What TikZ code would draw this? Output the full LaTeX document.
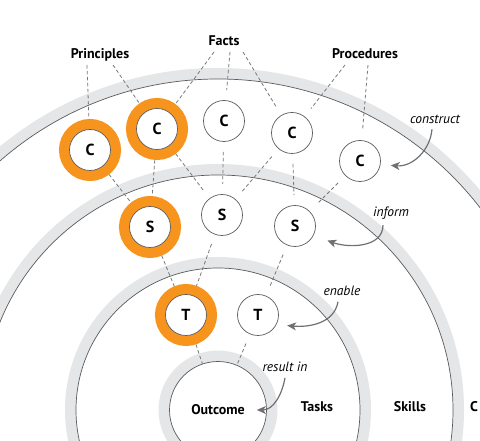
\documentclass[tikz,border=0pt]{standalone}
\usepackage{fontspec}
\setmainfont{PT Sans}
\usepackage{xcolor}
\usepackage{tikz}
\usetikzlibrary{arrows.meta,positioning}
\definecolor{bandgray}{RGB}{229,230,231}
\definecolor{rimgray}{RGB}{90,91,93}
\definecolor{dotgray}{RGB}{120,120,122}
\definecolor{arrowgray}{RGB}{112,112,114}
\definecolor{keyorange}{RGB}{247,148,29}
\tikzset{
  concept/.style={
    circle,
    draw=rimgray,
    line width=0.7pt,
    fill=white,
    minimum size=41pt,
    inner sep=0pt,
    outer sep=10.5pt,
    font=\fontsize{16}{16}\selectfont\bfseries
  },
  focus/.style={
    concept,
    preaction={draw=keyorange, line width=21pt}
  },
  goal/.style={
    circle,
    draw=rimgray,
    line width=0.7pt,
    minimum size=97pt,
    inner sep=0pt,
    font=\fontsize{14}{14}\selectfont\bfseries
  },
  heading/.style={
    font=\fontsize{14}{14}\selectfont\bfseries,
    text depth=0.25em,
    inner sep=2pt,
    outer sep=1.5pt
  },
  action/.style={
    font=\fontsize{13.5}{13.5}\selectfont\itshape,
    inner sep=2pt,
    outer sep=4pt
  },
  band/.style={draw=bandgray, line width=11pt},
  rim/.style={draw=rimgray, line width=0.7pt},
  dep/.style={draw=dotgray, line width=0.8pt, dash pattern=on 3.5pt off 2.5pt},
  rel/.style={-{Stealth[length=9pt, width=8pt, inset=2.5pt]}, draw=arrowgray, line width=1.2pt}
}

\begin{document}
\begin{tikzpicture}[x=1pt, y=1pt]
  \useasboundingbox (0,0) rectangle (480,441);
  \clip (0,0) rectangle (480,441);

  % rings
  \coordinate (hub) at (218,31);
  \foreach \r in {48.5,142,235,331}
    \draw[band] (hub) circle [radius=\r+5.5];
  \foreach \r in {142,235,331}
    \draw[rim] (hub) circle [radius=\r];
  \node[goal] (core) at (hub) {Outcome};

  % concepts, skills, tasks
  \node[focus] (c1) at (90,291) {C};
  \node[focus] (c2) at (157,312) {C};
  \node[concept] (c3) at (224,320) {C};
  \node[concept] (c4) at (292,308) {C};
  \node[concept] (c5) at (360,280) {C};
  \node[focus] (s1) at (150,214) {S};
  \node[concept] (s2) at (222,226) {S};
  \node[concept] (s3) at (295,215) {S};
  \node[focus] (t1) at (186,126) {T};
  \node[concept] (t2) at (258,126) {T};

  % labels
  \node[heading, anchor=base] (principles) at (100,382) {Principles};
  \node[heading, anchor=base] (facts) at (224,395) {Facts};
  \node[heading, anchor=base] (procedures) at (365,382) {Procedures};
  \node[heading, anchor=base] (tasks) at (317,29) {Tasks};
  \node[heading, anchor=base] (skills) at (410,29) {Skills};
  \node[heading, anchor=base east, inner sep=0.5pt] (concepts) at (480,29) {C};

  \node[action] (construct) at (435,322) {construct};
  \node[action] (inform) at (391,228) {inform};
  \node[action] (enable) at (342,150) {enable};
  \node[action] (resultin) at (285,74) {result in};

  % dashed links
  \draw[dep] ([xshift=-13pt]principles.south) -- (c1);
  \draw[dep] ([xshift=13pt]principles.south) -- (c2);
  \draw[dep] ([xshift=-10pt]facts.south) -- (c2);
  \draw[dep] ([xshift=6pt]facts.south) -- (c3);
  \draw[dep] ([xshift=19pt]facts.south) -- (c4);
  \draw[dep] ([xshift=-20pt]procedures.south) -- (c4);
  \draw[dep] ([xshift=3pt]procedures.south) -- (c5);
  \draw[dep] (c1) -- (s1);
  \draw[dep] (c2) -- (s1);
  \draw[dep] (c2) -- (s2);
  \draw[dep] (c3) -- (s2);
  \draw[dep] (c4) -- (s2);
  \draw[dep] (c4) -- (s3);
  \draw[dep] (c5) -- (s3);
  \draw[dep] (s1) -- (t1);
  \draw[dep] (s2) -- (t1);
  \draw[dep] (s3) -- (t2);
  \draw[dep] (t1) -- (core);
  \draw[dep] (t2) -- (core);

  % curved arrows
  \draw[rel] ([xshift=-3pt]construct.south) to[out=-95, in=-5] (c5.-8);
  \draw[rel] ([xshift=-8pt]inform.south) to[out=-90, in=-20] ([xshift=5pt]s3.-28);
  \draw[rel] ([xshift=-4pt]enable.south) to[out=-100, in=-5] (t2.-20);
  \draw[rel] (resultin.south) to[out=-100, in=0] ([xshift=-10pt]core.east);
\end{tikzpicture}
\end{document}
